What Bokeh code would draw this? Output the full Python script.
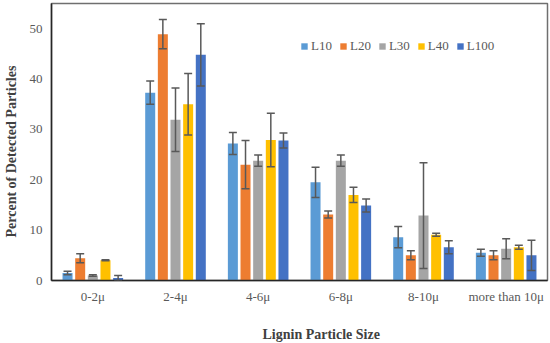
from bokeh.plotting import figure
from bokeh.models import (ColumnDataSource, FactorRange, Range1d, Whisker, TeeHead,
                          Legend, LegendItem, Title, FixedTicker)
from bokeh.transform import dodge
from bokeh.embed import file_html
from bokeh.resources import INLINE

categories = ["0-2μ", "2-4μ", "4-6μ", "6-8μ", "8-10μ", "more than 10μ"]
series_names = ["L10", "L20", "L30", "L40", "L100"]

L10 = [1.5, 37.3, 27.2, 19.5, 8.6, 5.5]
L10_err = [0.35, 2.3, 2.2, 3.0, 2.1, 0.7]
L20 = [4.4, 48.9, 23.0, 13.1, 5.0, 5.0]
L20_err = [0.9, 2.9, 4.8, 0.7, 0.9, 0.9]
L30 = [1.0, 31.9, 23.8, 23.8, 12.9, 6.3]
L30_err = [0.15, 6.3, 1.1, 1.1, 10.5, 2.0]
L40 = [4.0, 35.0, 27.9, 17.0, 9.1, 6.6]
L40_err = [0.1, 6.1, 5.3, 1.5, 0.3, 0.4]
L100 = [0.5, 44.8, 27.8, 14.9, 6.6, 5.0]
L100_err = [0.5, 6.2, 1.5, 1.3, 1.3, 3.0]

y_ticks = [0, 10, 20, 30, 40, 50]

values = [L10, L20, L30, L40, L100]
errors = [L10_err, L20_err, L30_err, L40_err, L100_err]
colors = ["#5B9BD5", "#ED7D31", "#A5A5A5", "#FFC000", "#4472C4"]

FONT = "Liberation Serif"
GREY = "#595959"

p = figure(x_range=FactorRange(*categories, range_padding=0), y_range=Range1d(0, 55),
           width=550, height=343, output_backend="svg", toolbar_location=None,
           min_border_left=51, min_border_right=3, min_border_top=3, min_border_bottom=63)

p.xgrid.grid_line_color = None
p.ygrid.grid_line_color = None
p.outline_line_color = "#6f6f6f"
p.outline_line_width = 1.5
p.background_fill_color = "white"
p.border_fill_color = "white"

step = 0.153
bar_w = 0.121
legend_items = []
for i, (name, vals, errs, col) in enumerate(zip(series_names, values, errors, colors)):
    off = (i - 2) * step
    src = ColumnDataSource(dict(cat=categories, val=vals,
                                upper=[v + e for v, e in zip(vals, errs)],
                                lower=[max(v - e, 0) for v, e in zip(vals, errs)]))
    r = p.vbar(x=dodge("cat", off, range=p.x_range), top="val", width=bar_w,
               source=src, fill_color=col, line_color=None)
    w = Whisker(base=dodge("cat", off, range=p.x_range), upper="upper", lower="lower",
                source=src, line_color=GREY, line_width=1.5, level="overlay",
                upper_head=TeeHead(size=8, line_color=GREY, line_width=1.5),
                lower_head=TeeHead(size=8, line_color=GREY, line_width=1.5))
    p.add_layout(w)
    legend_items.append(LegendItem(label=name, renderers=[r]))

legend = Legend(items=legend_items, orientation="horizontal", location=(249, 226),
                glyph_width=8, glyph_height=8, label_standoff=3, spacing=7,
                padding=0, margin=0, background_fill_alpha=0, border_line_color=None,
                label_text_font=FONT, label_text_font_size="13px",
                label_text_color=GREY)
p.add_layout(legend, "center")

for ax in (p.xaxis[0], p.yaxis[0]):
    ax.major_tick_line_color = None
    ax.minor_tick_line_color = None
    ax.major_tick_out = 0
    ax.major_tick_in = 0
    ax.minor_tick_out = 0
    ax.minor_tick_in = 0
    ax.axis_line_color = "#262626"
    ax.axis_line_width = 1.5
    ax.major_label_text_font = FONT
    ax.major_label_text_font_size = "13px"
    ax.major_label_text_color = GREY
    # blank axis label used only as a spacer before the titles
    ax.axis_label = " "

p.yaxis[0].ticker = FixedTicker(ticks=y_ticks)
p.yaxis[0].major_label_standoff = 9
p.yaxis[0].axis_label_standoff = 0
p.yaxis[0].axis_label_text_font_size = "4px"
p.xaxis[0].major_label_standoff = 8
p.xaxis[0].axis_label_standoff = 4
p.xaxis[0].axis_label_text_font_size = "10px"

ytitle = Title(text="Percent of Detected Particles", align="left", offset=43,
               text_font=FONT, text_font_size="14px", text_font_style="bold",
               text_color="#404040", standoff=0)
p.add_layout(ytitle, "left")

xtitle = Title(text="Lignin Particle Size", align="left", offset=211,
               text_font=FONT, text_font_size="14px", text_font_style="bold",
               text_color="#404040", standoff=0)
p.add_layout(xtitle, "below")

open("out.html", "w").write(file_html(p, INLINE))
